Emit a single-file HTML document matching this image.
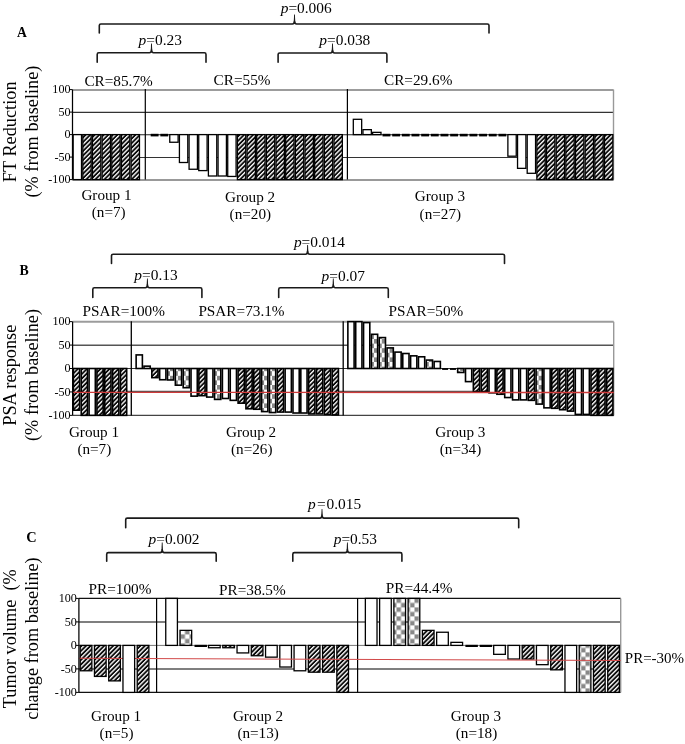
<!DOCTYPE html>
<html><head><meta charset="utf-8"><title>Figure</title>
<style>html,body{margin:0;padding:0;background:#fff;}body{width:685px;height:744px;position:relative;overflow:hidden;font-family:"Liberation Serif",serif;}</style></head>
<body>
<svg width="685" height="744" viewBox="0 0 685 744" style="position:absolute;left:0;top:0;font-family:'Liberation Serif', serif;" fill="#000">
<defs><pattern id="hatch" patternUnits="userSpaceOnUse" width="3.2" height="3.2" patternTransform="rotate(45)"><rect width="3.2" height="3.2" fill="#0a0a0a"/><rect x="0" y="0" width="1.35" height="3.2" fill="#fff"/></pattern><pattern id="checkB" patternUnits="userSpaceOnUse" x="2.1" y="1.5" width="8" height="9"><rect width="8" height="9" fill="#fff"/><rect x="0" y="0" width="4" height="4.5" fill="#888"/><rect x="4" y="4.5" width="4" height="4.5" fill="#888"/></pattern><pattern id="checkC" patternUnits="userSpaceOnUse" x="0.5" y="4.4" width="9" height="9"><rect width="9" height="9" fill="#fff"/><rect x="0" y="0" width="4.5" height="4.5" fill="#888"/><rect x="4.5" y="4.5" width="4.5" height="4.5" fill="#888"/></pattern></defs>
<rect width="685" height="744" fill="#fff"/>
<line x1="72.5" y1="90.00" x2="613.5" y2="90.00" stroke="#9c9c9c" stroke-width="2.0"/>
<line x1="72.5" y1="112.40" x2="613.5" y2="112.40" stroke="#333" stroke-width="1.1"/>
<line x1="72.5" y1="134.80" x2="613.5" y2="134.80" stroke="#222" stroke-width="1.1"/>
<line x1="72.5" y1="157.50" x2="613.5" y2="157.50" stroke="#333" stroke-width="1.1"/>
<line x1="72.5" y1="180.00" x2="613.5" y2="180.00" stroke="#999" stroke-width="2.0"/>
<line x1="613.5" y1="89.60" x2="613.5" y2="179.60" stroke="#999" stroke-width="1.4"/>
<rect x="73.15" y="134.60" width="8.36" height="45.00" fill="#ffffff" stroke="#000" stroke-width="1.3"/>
<rect x="82.81" y="134.60" width="8.36" height="45.00" fill="url(#hatch)" stroke="#000" stroke-width="1.3"/>
<rect x="92.47" y="134.60" width="8.36" height="45.00" fill="url(#hatch)" stroke="#000" stroke-width="1.3"/>
<rect x="102.13" y="134.60" width="8.36" height="45.00" fill="url(#hatch)" stroke="#000" stroke-width="1.3"/>
<rect x="111.79" y="134.60" width="8.36" height="45.00" fill="url(#hatch)" stroke="#000" stroke-width="1.3"/>
<rect x="121.45" y="134.60" width="8.36" height="45.00" fill="url(#hatch)" stroke="#000" stroke-width="1.3"/>
<rect x="131.11" y="134.60" width="8.36" height="45.00" fill="url(#hatch)" stroke="#000" stroke-width="1.3"/>
<rect x="150.69" y="133.80" width="7.86" height="2.6" fill="#000"/>
<rect x="160.35" y="133.80" width="7.86" height="2.6" fill="#000"/>
<rect x="169.76" y="134.60" width="8.36" height="7.65" fill="#ffffff" stroke="#000" stroke-width="1.3"/>
<rect x="179.42" y="134.60" width="8.36" height="27.90" fill="#ffffff" stroke="#000" stroke-width="1.3"/>
<rect x="189.08" y="134.60" width="8.36" height="34.65" fill="#ffffff" stroke="#000" stroke-width="1.3"/>
<rect x="198.74" y="134.60" width="8.36" height="36.00" fill="#ffffff" stroke="#000" stroke-width="1.3"/>
<rect x="208.40" y="134.60" width="8.36" height="41.40" fill="#ffffff" stroke="#000" stroke-width="1.3"/>
<rect x="218.06" y="134.60" width="8.36" height="41.40" fill="#ffffff" stroke="#000" stroke-width="1.3"/>
<rect x="227.72" y="134.60" width="8.36" height="41.85" fill="#ffffff" stroke="#000" stroke-width="1.3"/>
<rect x="237.38" y="134.60" width="8.36" height="45.00" fill="url(#hatch)" stroke="#000" stroke-width="1.3"/>
<rect x="247.04" y="134.60" width="8.36" height="45.00" fill="url(#hatch)" stroke="#000" stroke-width="1.3"/>
<rect x="256.70" y="134.60" width="8.36" height="45.00" fill="url(#hatch)" stroke="#000" stroke-width="1.3"/>
<rect x="266.36" y="134.60" width="8.36" height="45.00" fill="url(#hatch)" stroke="#000" stroke-width="1.3"/>
<rect x="276.02" y="134.60" width="8.36" height="45.00" fill="url(#hatch)" stroke="#000" stroke-width="1.3"/>
<rect x="285.69" y="134.60" width="8.36" height="45.00" fill="url(#hatch)" stroke="#000" stroke-width="1.3"/>
<rect x="295.35" y="134.60" width="8.36" height="45.00" fill="url(#hatch)" stroke="#000" stroke-width="1.3"/>
<rect x="305.01" y="134.60" width="8.36" height="45.00" fill="url(#hatch)" stroke="#000" stroke-width="1.3"/>
<rect x="314.67" y="134.60" width="8.36" height="45.00" fill="url(#hatch)" stroke="#000" stroke-width="1.3"/>
<rect x="324.33" y="134.60" width="8.36" height="45.00" fill="url(#hatch)" stroke="#000" stroke-width="1.3"/>
<rect x="333.99" y="134.60" width="8.36" height="45.00" fill="url(#hatch)" stroke="#000" stroke-width="1.3"/>
<rect x="353.31" y="119.30" width="8.36" height="15.30" fill="#ffffff" stroke="#000" stroke-width="1.3"/>
<rect x="362.97" y="129.65" width="8.36" height="4.95" fill="#ffffff" stroke="#000" stroke-width="1.3"/>
<rect x="372.63" y="132.35" width="8.36" height="2.25" fill="#ffffff" stroke="#000" stroke-width="1.3"/>
<rect x="382.54" y="133.80" width="7.86" height="2.6" fill="#000"/>
<rect x="392.20" y="133.80" width="7.86" height="2.6" fill="#000"/>
<rect x="401.86" y="133.80" width="7.86" height="2.6" fill="#000"/>
<rect x="411.52" y="133.80" width="7.86" height="2.6" fill="#000"/>
<rect x="421.19" y="133.80" width="7.86" height="2.6" fill="#000"/>
<rect x="430.85" y="133.80" width="7.86" height="2.6" fill="#000"/>
<rect x="440.51" y="133.80" width="7.86" height="2.6" fill="#000"/>
<rect x="450.17" y="133.80" width="7.86" height="2.6" fill="#000"/>
<rect x="459.83" y="133.80" width="7.86" height="2.6" fill="#000"/>
<rect x="469.49" y="133.80" width="7.86" height="2.6" fill="#000"/>
<rect x="479.15" y="133.80" width="7.86" height="2.6" fill="#000"/>
<rect x="488.81" y="133.80" width="7.86" height="2.6" fill="#000"/>
<rect x="498.47" y="133.80" width="7.86" height="2.6" fill="#000"/>
<rect x="507.88" y="134.60" width="8.36" height="21.60" fill="#ffffff" stroke="#000" stroke-width="1.3"/>
<rect x="517.54" y="134.60" width="8.36" height="33.75" fill="#ffffff" stroke="#000" stroke-width="1.3"/>
<rect x="527.20" y="134.60" width="8.36" height="38.70" fill="#ffffff" stroke="#000" stroke-width="1.3"/>
<rect x="536.86" y="134.60" width="8.36" height="45.00" fill="url(#hatch)" stroke="#000" stroke-width="1.3"/>
<rect x="546.52" y="134.60" width="8.36" height="45.00" fill="url(#hatch)" stroke="#000" stroke-width="1.3"/>
<rect x="556.19" y="134.60" width="8.36" height="45.00" fill="url(#hatch)" stroke="#000" stroke-width="1.3"/>
<rect x="565.85" y="134.60" width="8.36" height="45.00" fill="url(#hatch)" stroke="#000" stroke-width="1.3"/>
<rect x="575.51" y="134.60" width="8.36" height="45.00" fill="url(#hatch)" stroke="#000" stroke-width="1.3"/>
<rect x="585.17" y="134.60" width="8.36" height="45.00" fill="url(#hatch)" stroke="#000" stroke-width="1.3"/>
<rect x="594.83" y="134.60" width="8.36" height="45.00" fill="url(#hatch)" stroke="#000" stroke-width="1.3"/>
<rect x="604.49" y="134.60" width="8.36" height="45.00" fill="url(#hatch)" stroke="#000" stroke-width="1.3"/>
<line x1="145.30" y1="89.10" x2="145.30" y2="179.60" stroke="#000" stroke-width="1.2"/>
<line x1="347.40" y1="89.10" x2="347.40" y2="179.60" stroke="#000" stroke-width="1.2"/>
<line x1="72.5" y1="89.60" x2="72.5" y2="179.60" stroke="#000" stroke-width="1.25"/>
<line x1="69.50" y1="89.60" x2="72.5" y2="89.60" stroke="#000" stroke-width="1"/>
<line x1="69.50" y1="112.10" x2="72.5" y2="112.10" stroke="#000" stroke-width="1"/>
<line x1="69.50" y1="134.60" x2="72.5" y2="134.60" stroke="#000" stroke-width="1"/>
<line x1="69.50" y1="157.10" x2="72.5" y2="157.10" stroke="#000" stroke-width="1"/>
<line x1="69.50" y1="179.60" x2="72.5" y2="179.60" stroke="#000" stroke-width="1"/>
<line x1="72.6" y1="321.70" x2="613.7" y2="321.70" stroke="#9c9c9c" stroke-width="2.0"/>
<line x1="72.6" y1="345.30" x2="613.7" y2="345.30" stroke="#555" stroke-width="1.4"/>
<line x1="72.6" y1="368.50" x2="613.7" y2="368.50" stroke="#333" stroke-width="1.1"/>
<line x1="72.6" y1="391.40" x2="613.7" y2="391.40" stroke="#555" stroke-width="1.1"/>
<line x1="72.6" y1="415.40" x2="613.7" y2="415.40" stroke="#444" stroke-width="1.2"/>
<line x1="613.7" y1="321.70" x2="613.7" y2="415.40" stroke="#999" stroke-width="1.4"/>
<rect x="73.40" y="368.50" width="6.24" height="41.70" fill="url(#hatch)" stroke="#000" stroke-width="1.6"/>
<rect x="81.24" y="368.50" width="6.24" height="46.85" fill="url(#hatch)" stroke="#000" stroke-width="1.6"/>
<rect x="89.08" y="368.50" width="6.24" height="46.85" fill="#ffffff" stroke="#000" stroke-width="1.6"/>
<rect x="96.93" y="368.50" width="6.24" height="46.85" fill="url(#hatch)" stroke="#000" stroke-width="1.6"/>
<rect x="104.77" y="368.50" width="6.24" height="46.85" fill="url(#hatch)" stroke="#000" stroke-width="1.6"/>
<rect x="112.61" y="368.50" width="6.24" height="46.85" fill="url(#hatch)" stroke="#000" stroke-width="1.6"/>
<rect x="120.45" y="368.50" width="6.24" height="46.85" fill="url(#hatch)" stroke="#000" stroke-width="1.6"/>
<rect x="136.14" y="354.91" width="6.24" height="13.59" fill="#ffffff" stroke="#000" stroke-width="1.6"/>
<rect x="143.98" y="366.16" width="6.24" height="2.34" fill="#ffffff" stroke="#000" stroke-width="1.6"/>
<rect x="151.82" y="368.50" width="6.24" height="9.14" fill="url(#hatch)" stroke="#000" stroke-width="1.6"/>
<rect x="159.66" y="368.50" width="6.24" height="11.24" fill="#ffffff" stroke="#000" stroke-width="1.6"/>
<pattern id="pc560_12" patternUnits="userSpaceOnUse" x="165.40" y="3.2" width="9.2" height="9.2"><rect width="9.2" height="9.2" fill="#fff"/><rect width="4.6" height="4.6" fill="#888"/><rect x="4.6" y="4.6" width="4.6" height="4.6" fill="#888"/></pattern>
<rect x="167.50" y="368.50" width="6.24" height="11.48" fill="url(#pc560_12)" stroke="#000" stroke-width="1.6"/>
<pattern id="pc560_13" patternUnits="userSpaceOnUse" x="173.25" y="3.2" width="9.2" height="9.2"><rect width="9.2" height="9.2" fill="#fff"/><rect width="4.6" height="4.6" fill="#888"/><rect x="4.6" y="4.6" width="4.6" height="4.6" fill="#888"/></pattern>
<rect x="175.35" y="368.50" width="6.24" height="16.68" fill="url(#pc560_13)" stroke="#000" stroke-width="1.6"/>
<pattern id="pc560_14" patternUnits="userSpaceOnUse" x="181.09" y="3.2" width="9.2" height="9.2"><rect width="9.2" height="9.2" fill="#fff"/><rect width="4.6" height="4.6" fill="#888"/><rect x="4.6" y="4.6" width="4.6" height="4.6" fill="#888"/></pattern>
<rect x="183.19" y="368.50" width="6.24" height="19.21" fill="url(#pc560_14)" stroke="#000" stroke-width="1.6"/>
<rect x="191.03" y="368.50" width="6.24" height="27.64" fill="#ffffff" stroke="#000" stroke-width="1.6"/>
<rect x="198.87" y="368.50" width="6.24" height="27.17" fill="url(#hatch)" stroke="#000" stroke-width="1.6"/>
<rect x="206.71" y="368.50" width="6.24" height="28.58" fill="#ffffff" stroke="#000" stroke-width="1.6"/>
<pattern id="pc560_18" patternUnits="userSpaceOnUse" x="212.46" y="3.2" width="9.2" height="9.2"><rect width="9.2" height="9.2" fill="#fff"/><rect width="4.6" height="4.6" fill="#888"/><rect x="4.6" y="4.6" width="4.6" height="4.6" fill="#888"/></pattern>
<rect x="214.56" y="368.50" width="6.24" height="30.92" fill="url(#pc560_18)" stroke="#000" stroke-width="1.6"/>
<rect x="222.40" y="368.50" width="6.24" height="29.98" fill="#ffffff" stroke="#000" stroke-width="1.6"/>
<rect x="230.24" y="368.50" width="6.24" height="31.86" fill="#ffffff" stroke="#000" stroke-width="1.6"/>
<rect x="238.08" y="368.50" width="6.24" height="34.67" fill="url(#hatch)" stroke="#000" stroke-width="1.6"/>
<rect x="245.92" y="368.50" width="6.24" height="40.29" fill="url(#hatch)" stroke="#000" stroke-width="1.6"/>
<rect x="253.77" y="368.50" width="6.24" height="40.76" fill="url(#hatch)" stroke="#000" stroke-width="1.6"/>
<pattern id="pc560_24" patternUnits="userSpaceOnUse" x="259.51" y="3.2" width="9.2" height="9.2"><rect width="9.2" height="9.2" fill="#fff"/><rect width="4.6" height="4.6" fill="#888"/><rect x="4.6" y="4.6" width="4.6" height="4.6" fill="#888"/></pattern>
<rect x="261.61" y="368.50" width="6.24" height="43.10" fill="url(#pc560_24)" stroke="#000" stroke-width="1.6"/>
<pattern id="pc560_25" patternUnits="userSpaceOnUse" x="267.35" y="3.2" width="9.2" height="9.2"><rect width="9.2" height="9.2" fill="#fff"/><rect width="4.6" height="4.6" fill="#888"/><rect x="4.6" y="4.6" width="4.6" height="4.6" fill="#888"/></pattern>
<rect x="269.45" y="368.50" width="6.24" height="44.04" fill="url(#pc560_25)" stroke="#000" stroke-width="1.6"/>
<rect x="277.29" y="368.50" width="6.24" height="43.57" fill="url(#hatch)" stroke="#000" stroke-width="1.6"/>
<rect x="285.13" y="368.50" width="6.24" height="43.57" fill="#ffffff" stroke="#000" stroke-width="1.6"/>
<rect x="292.98" y="368.50" width="6.24" height="44.51" fill="#ffffff" stroke="#000" stroke-width="1.6"/>
<rect x="300.82" y="368.50" width="6.24" height="44.51" fill="#ffffff" stroke="#000" stroke-width="1.6"/>
<rect x="308.66" y="368.50" width="6.24" height="45.44" fill="url(#hatch)" stroke="#000" stroke-width="1.6"/>
<rect x="316.50" y="368.50" width="6.24" height="45.44" fill="url(#hatch)" stroke="#000" stroke-width="1.6"/>
<rect x="324.34" y="368.50" width="6.24" height="45.91" fill="url(#hatch)" stroke="#000" stroke-width="1.6"/>
<rect x="332.19" y="368.50" width="6.24" height="46.38" fill="url(#hatch)" stroke="#000" stroke-width="1.6"/>
<rect x="347.87" y="321.65" width="6.24" height="46.85" fill="#ffffff" stroke="#000" stroke-width="1.6"/>
<rect x="355.71" y="321.65" width="6.24" height="46.85" fill="#ffffff" stroke="#000" stroke-width="1.6"/>
<rect x="363.56" y="322.59" width="6.24" height="45.91" fill="#ffffff" stroke="#000" stroke-width="1.6"/>
<pattern id="pc560_38" patternUnits="userSpaceOnUse" x="369.30" y="3.2" width="9.2" height="9.2"><rect width="9.2" height="9.2" fill="#fff"/><rect width="4.6" height="4.6" fill="#888"/><rect x="4.6" y="4.6" width="4.6" height="4.6" fill="#888"/></pattern>
<rect x="371.40" y="334.30" width="6.24" height="34.20" fill="url(#pc560_38)" stroke="#000" stroke-width="1.6"/>
<pattern id="pc560_39" patternUnits="userSpaceOnUse" x="377.14" y="3.2" width="9.2" height="9.2"><rect width="9.2" height="9.2" fill="#fff"/><rect width="4.6" height="4.6" fill="#888"/><rect x="4.6" y="4.6" width="4.6" height="4.6" fill="#888"/></pattern>
<rect x="379.24" y="337.58" width="6.24" height="30.92" fill="url(#pc560_39)" stroke="#000" stroke-width="1.6"/>
<pattern id="pc560_40" patternUnits="userSpaceOnUse" x="384.98" y="3.2" width="9.2" height="9.2"><rect width="9.2" height="9.2" fill="#fff"/><rect width="4.6" height="4.6" fill="#888"/><rect x="4.6" y="4.6" width="4.6" height="4.6" fill="#888"/></pattern>
<rect x="387.08" y="347.89" width="6.24" height="20.61" fill="url(#pc560_40)" stroke="#000" stroke-width="1.6"/>
<rect x="394.92" y="352.10" width="6.24" height="16.40" fill="#ffffff" stroke="#000" stroke-width="1.6"/>
<rect x="402.77" y="353.51" width="6.24" height="14.99" fill="#ffffff" stroke="#000" stroke-width="1.6"/>
<rect x="410.61" y="355.85" width="6.24" height="12.65" fill="#ffffff" stroke="#000" stroke-width="1.6"/>
<rect x="418.45" y="356.79" width="6.24" height="11.71" fill="#ffffff" stroke="#000" stroke-width="1.6"/>
<pattern id="pc560_45" patternUnits="userSpaceOnUse" x="424.19" y="3.2" width="9.2" height="9.2"><rect width="9.2" height="9.2" fill="#fff"/><rect width="4.6" height="4.6" fill="#888"/><rect x="4.6" y="4.6" width="4.6" height="4.6" fill="#888"/></pattern>
<rect x="426.29" y="360.07" width="6.24" height="8.43" fill="url(#pc560_45)" stroke="#000" stroke-width="1.6"/>
<rect x="434.13" y="361.47" width="6.24" height="7.03" fill="#ffffff" stroke="#000" stroke-width="1.6"/>
<rect x="442.08" y="368.10" width="6.04" height="1.8" fill="#000"/>
<rect x="449.92" y="368.10" width="6.04" height="1.8" fill="#000"/>
<pattern id="pc560_49" patternUnits="userSpaceOnUse" x="455.56" y="3.2" width="9.2" height="9.2"><rect width="9.2" height="9.2" fill="#fff"/><rect width="4.6" height="4.6" fill="#888"/><rect x="4.6" y="4.6" width="4.6" height="4.6" fill="#888"/></pattern>
<rect x="457.66" y="368.50" width="6.24" height="3.98" fill="url(#pc560_49)" stroke="#000" stroke-width="1.6"/>
<rect x="465.50" y="368.50" width="6.24" height="13.12" fill="#ffffff" stroke="#000" stroke-width="1.6"/>
<rect x="473.34" y="368.50" width="6.24" height="22.96" fill="url(#hatch)" stroke="#000" stroke-width="1.6"/>
<rect x="481.19" y="368.50" width="6.24" height="22.96" fill="url(#hatch)" stroke="#000" stroke-width="1.6"/>
<rect x="489.03" y="368.50" width="6.24" height="24.36" fill="#ffffff" stroke="#000" stroke-width="1.6"/>
<rect x="496.87" y="368.50" width="6.24" height="25.77" fill="url(#hatch)" stroke="#000" stroke-width="1.6"/>
<rect x="504.71" y="368.50" width="6.24" height="29.05" fill="#ffffff" stroke="#000" stroke-width="1.6"/>
<rect x="512.55" y="368.50" width="6.24" height="31.39" fill="#ffffff" stroke="#000" stroke-width="1.6"/>
<rect x="520.40" y="368.50" width="6.24" height="31.39" fill="#ffffff" stroke="#000" stroke-width="1.6"/>
<rect x="528.24" y="368.50" width="6.24" height="31.86" fill="url(#hatch)" stroke="#000" stroke-width="1.6"/>
<pattern id="pc560_59" patternUnits="userSpaceOnUse" x="533.98" y="3.2" width="9.2" height="9.2"><rect width="9.2" height="9.2" fill="#fff"/><rect width="4.6" height="4.6" fill="#888"/><rect x="4.6" y="4.6" width="4.6" height="4.6" fill="#888"/></pattern>
<rect x="536.08" y="368.50" width="6.24" height="35.61" fill="url(#pc560_59)" stroke="#000" stroke-width="1.6"/>
<rect x="543.92" y="368.50" width="6.24" height="39.35" fill="#ffffff" stroke="#000" stroke-width="1.6"/>
<rect x="551.76" y="368.50" width="6.24" height="39.82" fill="url(#hatch)" stroke="#000" stroke-width="1.6"/>
<rect x="559.61" y="368.50" width="6.24" height="41.23" fill="url(#hatch)" stroke="#000" stroke-width="1.6"/>
<rect x="567.45" y="368.50" width="6.24" height="42.63" fill="url(#hatch)" stroke="#000" stroke-width="1.6"/>
<rect x="575.29" y="368.50" width="6.24" height="45.91" fill="#ffffff" stroke="#000" stroke-width="1.6"/>
<rect x="583.13" y="368.50" width="6.24" height="45.91" fill="#ffffff" stroke="#000" stroke-width="1.6"/>
<rect x="590.97" y="368.50" width="6.24" height="46.85" fill="url(#hatch)" stroke="#000" stroke-width="1.6"/>
<rect x="598.82" y="368.50" width="6.24" height="46.85" fill="url(#hatch)" stroke="#000" stroke-width="1.6"/>
<rect x="606.66" y="368.50" width="6.24" height="46.85" fill="url(#hatch)" stroke="#000" stroke-width="1.6"/>
<line x1="131.30" y1="321.20" x2="131.30" y2="415.40" stroke="#000" stroke-width="1.3"/>
<line x1="343.20" y1="321.20" x2="343.20" y2="415.40" stroke="#000" stroke-width="1.3"/>
<line x1="72.6" y1="392.40" x2="613.7" y2="392.50" stroke="#cf3b3b" stroke-width="1.3"/>
<line x1="72.6" y1="321.70" x2="72.6" y2="415.40" stroke="#000" stroke-width="1.25"/>
<line x1="69.60" y1="321.65" x2="72.6" y2="321.65" stroke="#000" stroke-width="1"/>
<line x1="69.60" y1="345.07" x2="72.6" y2="345.07" stroke="#000" stroke-width="1"/>
<line x1="69.60" y1="368.50" x2="72.6" y2="368.50" stroke="#000" stroke-width="1"/>
<line x1="69.60" y1="391.93" x2="72.6" y2="391.93" stroke="#000" stroke-width="1"/>
<line x1="69.60" y1="415.35" x2="72.6" y2="415.35" stroke="#000" stroke-width="1"/>
<line x1="78.9" y1="598.40" x2="620.7" y2="598.40" stroke="#111" stroke-width="1.2"/>
<line x1="78.9" y1="621.90" x2="620.7" y2="621.90" stroke="#555" stroke-width="1.5"/>
<line x1="78.9" y1="645.40" x2="620.7" y2="645.40" stroke="#777" stroke-width="1.0"/>
<line x1="78.9" y1="668.90" x2="620.7" y2="668.90" stroke="#555" stroke-width="1.5"/>
<line x1="78.9" y1="692.40" x2="620.7" y2="692.40" stroke="#111" stroke-width="1.2"/>
<line x1="620.7" y1="598.40" x2="620.7" y2="692.40" stroke="#999" stroke-width="1.4"/>
<rect x="80.20" y="645.40" width="11.66" height="25.38" fill="url(#hatch)" stroke="#000" stroke-width="1.3"/>
<rect x="94.46" y="645.40" width="11.66" height="31.02" fill="url(#hatch)" stroke="#000" stroke-width="1.3"/>
<rect x="108.72" y="645.40" width="11.66" height="35.49" fill="url(#hatch)" stroke="#000" stroke-width="1.3"/>
<rect x="137.23" y="645.40" width="11.66" height="47.00" fill="url(#hatch)" stroke="#000" stroke-width="1.3"/>
<rect x="165.75" y="598.40" width="11.66" height="47.00" fill="#ffffff" stroke="#000" stroke-width="1.3"/>
<rect x="180.01" y="630.36" width="11.66" height="15.04" fill="url(#checkC)" stroke="#000" stroke-width="1.3"/>
<rect x="194.51" y="644.80" width="12.46" height="2.2" fill="#000"/>
<rect x="208.52" y="645.40" width="11.66" height="2.35" fill="#ffffff" stroke="#000" stroke-width="1.3"/>
<rect x="222.78" y="645.40" width="11.66" height="2.35" fill="url(#hatch)" stroke="#000" stroke-width="1.3"/>
<rect x="237.04" y="645.40" width="11.66" height="7.52" fill="#ffffff" stroke="#000" stroke-width="1.3"/>
<rect x="251.29" y="645.40" width="11.66" height="10.34" fill="url(#hatch)" stroke="#000" stroke-width="1.3"/>
<rect x="265.55" y="645.40" width="11.66" height="11.75" fill="#ffffff" stroke="#000" stroke-width="1.3"/>
<rect x="279.81" y="645.40" width="11.66" height="21.62" fill="#ffffff" stroke="#000" stroke-width="1.3"/>
<rect x="294.07" y="645.40" width="11.66" height="25.38" fill="#ffffff" stroke="#000" stroke-width="1.3"/>
<rect x="308.33" y="645.40" width="11.66" height="26.79" fill="url(#hatch)" stroke="#000" stroke-width="1.3"/>
<rect x="322.58" y="645.40" width="11.66" height="26.79" fill="url(#hatch)" stroke="#000" stroke-width="1.3"/>
<rect x="336.84" y="645.40" width="11.66" height="47.00" fill="url(#hatch)" stroke="#000" stroke-width="1.3"/>
<rect x="365.36" y="598.40" width="11.66" height="47.00" fill="#ffffff" stroke="#000" stroke-width="1.3"/>
<rect x="379.62" y="598.40" width="11.66" height="47.00" fill="#ffffff" stroke="#000" stroke-width="1.3"/>
<rect x="393.87" y="598.40" width="11.66" height="47.00" fill="url(#checkC)" stroke="#000" stroke-width="1.3"/>
<rect x="408.13" y="598.40" width="11.66" height="47.00" fill="url(#checkC)" stroke="#000" stroke-width="1.3"/>
<rect x="422.39" y="630.36" width="11.66" height="15.04" fill="url(#hatch)" stroke="#000" stroke-width="1.3"/>
<rect x="436.65" y="632.24" width="11.66" height="13.16" fill="#ffffff" stroke="#000" stroke-width="1.3"/>
<rect x="450.91" y="642.35" width="11.66" height="3.05" fill="#ffffff" stroke="#000" stroke-width="1.3"/>
<rect x="465.41" y="644.80" width="12.46" height="2.2" fill="#000"/>
<rect x="479.67" y="644.80" width="12.46" height="2.2" fill="#000"/>
<rect x="493.68" y="645.40" width="11.66" height="8.93" fill="#ffffff" stroke="#000" stroke-width="1.3"/>
<rect x="507.94" y="645.40" width="11.66" height="13.63" fill="#ffffff" stroke="#000" stroke-width="1.3"/>
<rect x="522.19" y="645.40" width="11.66" height="13.63" fill="url(#hatch)" stroke="#000" stroke-width="1.3"/>
<rect x="536.45" y="645.40" width="11.66" height="19.27" fill="#ffffff" stroke="#000" stroke-width="1.3"/>
<rect x="550.71" y="645.40" width="11.66" height="24.44" fill="url(#hatch)" stroke="#000" stroke-width="1.3"/>
<rect x="564.97" y="645.40" width="11.66" height="47.00" fill="#ffffff" stroke="#000" stroke-width="1.3"/>
<rect x="579.23" y="645.40" width="11.66" height="47.00" fill="url(#checkC)" stroke="#000" stroke-width="1.3"/>
<rect x="593.48" y="645.40" width="11.66" height="47.00" fill="url(#hatch)" stroke="#000" stroke-width="1.3"/>
<rect x="607.74" y="645.40" width="11.66" height="47.00" fill="url(#hatch)" stroke="#000" stroke-width="1.3"/>
<line x1="156.60" y1="597.90" x2="156.60" y2="692.40" stroke="#000" stroke-width="1.2"/>
<line x1="357.60" y1="597.90" x2="357.60" y2="692.40" stroke="#000" stroke-width="1.2"/>
<line x1="78.9" y1="658.30" x2="620.7" y2="660.50" stroke="#d24a4a" stroke-width="1.1"/>
<rect x="122.97" y="645.40" width="11.66" height="47.00" fill="#ffffff" stroke="#000" stroke-width="1.3"/>
<line x1="78.9" y1="598.40" x2="78.9" y2="692.40" stroke="#000" stroke-width="1.25"/>
<line x1="75.90" y1="598.40" x2="78.9" y2="598.40" stroke="#000" stroke-width="1"/>
<line x1="75.90" y1="621.90" x2="78.9" y2="621.90" stroke="#000" stroke-width="1"/>
<line x1="75.90" y1="645.40" x2="78.9" y2="645.40" stroke="#000" stroke-width="1"/>
<line x1="75.90" y1="668.90" x2="78.9" y2="668.90" stroke="#000" stroke-width="1"/>
<line x1="75.90" y1="692.40" x2="78.9" y2="692.40" stroke="#000" stroke-width="1"/>
<path d="M99.30,33.00 L99.30,25.60 Q99.30,24.00 100.90,24.00 L292.50,24.00 Q294.20,24.00 294.50,21.20 M489.00,33.00 L489.00,25.60 Q489.00,24.00 487.40,24.00 L296.50,24.00 Q294.80,24.00 294.50,21.20" fill="none" stroke="#1a1a1a" stroke-width="1.6" stroke-linecap="round" stroke-linejoin="round"/>
<path d="M293.75,21.50 L294.10,14.50 L294.90,14.50 L295.25,21.50 Z" fill="#1a1a1a"/>
<path d="M97.20,62.20 L97.20,54.40 Q97.20,52.80 98.80,52.80 L149.50,52.80 Q151.20,52.80 151.50,50.00 M206.00,62.20 L206.00,54.40 Q206.00,52.80 204.40,52.80 L153.50,52.80 Q151.80,52.80 151.50,50.00" fill="none" stroke="#1a1a1a" stroke-width="1.6" stroke-linecap="round" stroke-linejoin="round"/>
<path d="M150.75,50.30 L151.10,43.50 L151.90,43.50 L152.25,50.30 Z" fill="#1a1a1a"/>
<path d="M278.10,62.20 L278.10,54.60 Q278.10,53.00 279.70,53.00 L330.50,53.00 Q332.20,53.00 332.50,50.20 M386.90,62.20 L386.90,54.60 Q386.90,53.00 385.30,53.00 L334.50,53.00 Q332.80,53.00 332.50,50.20" fill="none" stroke="#1a1a1a" stroke-width="1.6" stroke-linecap="round" stroke-linejoin="round"/>
<path d="M331.75,50.50 L332.10,43.50 L332.90,43.50 L333.25,50.50 Z" fill="#1a1a1a"/>
<path d="M111.50,263.50 L111.50,255.80 Q111.50,254.20 113.10,254.20 L305.60,254.20 Q307.30,254.20 307.60,251.40 M504.50,263.50 L504.50,255.80 Q504.50,254.20 502.90,254.20 L309.60,254.20 Q307.90,254.20 307.60,251.40" fill="none" stroke="#1a1a1a" stroke-width="1.6" stroke-linecap="round" stroke-linejoin="round"/>
<path d="M306.85,251.70 L307.20,245.00 L308.00,245.00 L308.35,251.70 Z" fill="#1a1a1a"/>
<path d="M92.80,297.40 L92.80,289.40 Q92.80,287.80 94.40,287.80 L145.40,287.80 Q147.10,287.80 147.40,285.00 M201.90,297.40 L201.90,289.40 Q201.90,287.80 200.30,287.80 L149.40,287.80 Q147.70,287.80 147.40,285.00" fill="none" stroke="#1a1a1a" stroke-width="1.6" stroke-linecap="round" stroke-linejoin="round"/>
<path d="M146.65,285.30 L147.00,278.50 L147.80,278.50 L148.15,285.30 Z" fill="#1a1a1a"/>
<path d="M278.70,297.40 L278.70,289.40 Q278.70,287.80 280.30,287.80 L331.30,287.80 Q333.00,287.80 333.30,285.00 M388.30,297.40 L388.30,289.40 Q388.30,287.80 386.70,287.80 L335.30,287.80 Q333.60,287.80 333.30,285.00" fill="none" stroke="#1a1a1a" stroke-width="1.6" stroke-linecap="round" stroke-linejoin="round"/>
<path d="M332.55,285.30 L332.90,278.50 L333.70,278.50 L334.05,285.30 Z" fill="#1a1a1a"/>
<path d="M125.70,527.70 L125.70,519.70 Q125.70,518.10 127.30,518.10 L320.00,518.10 Q321.70,518.10 322.00,515.30 M518.70,527.70 L518.70,519.70 Q518.70,518.10 517.10,518.10 L324.00,518.10 Q322.30,518.10 322.00,515.30" fill="none" stroke="#1a1a1a" stroke-width="1.6" stroke-linecap="round" stroke-linejoin="round"/>
<path d="M321.25,515.60 L321.60,509.00 L322.40,509.00 L322.75,515.60 Z" fill="#1a1a1a"/>
<path d="M106.70,561.30 L106.70,554.20 Q106.70,552.60 108.30,552.60 L160.20,552.60 Q161.90,552.60 162.20,549.80 M216.20,561.30 L216.20,554.20 Q216.20,552.60 214.60,552.60 L164.20,552.60 Q162.50,552.60 162.20,549.80" fill="none" stroke="#1a1a1a" stroke-width="1.6" stroke-linecap="round" stroke-linejoin="round"/>
<path d="M161.45,550.10 L161.80,542.50 L162.60,542.50 L162.95,550.10 Z" fill="#1a1a1a"/>
<path d="M292.80,561.30 L292.80,554.20 Q292.80,552.60 294.40,552.60 L345.40,552.60 Q347.10,552.60 347.40,549.80 M401.90,561.30 L401.90,554.20 Q401.90,552.60 400.30,552.60 L349.40,552.60 Q347.70,552.60 347.40,549.80" fill="none" stroke="#1a1a1a" stroke-width="1.6" stroke-linecap="round" stroke-linejoin="round"/>
<path d="M346.65,550.10 L347.00,542.50 L347.80,542.50 L348.15,550.10 Z" fill="#1a1a1a"/>
<g style="opacity:0.999">
<text x="70.50" y="93.40" font-size="12.1" font-weight="normal" text-anchor="end" >100</text>
<text x="70.50" y="115.90" font-size="12.1" font-weight="normal" text-anchor="end" >50</text>
<text x="70.50" y="138.40" font-size="12.1" font-weight="normal" text-anchor="end" >0</text>
<text x="70.50" y="160.90" font-size="12.1" font-weight="normal" text-anchor="end" >-50</text>
<text x="70.50" y="183.40" font-size="12.1" font-weight="normal" text-anchor="end" >-100</text>
<text x="70.60" y="325.45" font-size="12.1" font-weight="normal" text-anchor="end" >100</text>
<text x="70.60" y="348.88" font-size="12.1" font-weight="normal" text-anchor="end" >50</text>
<text x="70.60" y="372.30" font-size="12.1" font-weight="normal" text-anchor="end" >0</text>
<text x="70.60" y="395.73" font-size="12.1" font-weight="normal" text-anchor="end" >-50</text>
<text x="70.60" y="419.15" font-size="12.1" font-weight="normal" text-anchor="end" >-100</text>
<text x="76.90" y="602.20" font-size="12.1" font-weight="normal" text-anchor="end" >100</text>
<text x="76.90" y="625.70" font-size="12.1" font-weight="normal" text-anchor="end" >50</text>
<text x="76.90" y="649.20" font-size="12.1" font-weight="normal" text-anchor="end" >0</text>
<text x="76.90" y="672.70" font-size="12.1" font-weight="normal" text-anchor="end" >-50</text>
<text x="76.90" y="696.20" font-size="12.1" font-weight="normal" text-anchor="end" >-100</text>
<text x="17" y="37" font-size="15" font-weight="bold" transform="translate(17,0) scale(0.91,1) translate(-17,0)">A</text>
<text x="280.70" y="12.80" font-size="15.4"><tspan font-style="italic">p</tspan><tspan dx="0">=</tspan><tspan dx="0">0.006</tspan></text>
<text x="138.60" y="45.30" font-size="15.4"><tspan font-style="italic">p</tspan><tspan dx="0">=</tspan><tspan dx="0">0.23</tspan></text>
<text x="319.30" y="45.30" font-size="15.4"><tspan font-style="italic">p</tspan><tspan dx="0">=</tspan><tspan dx="0">0.038</tspan></text>
<text x="84.40" y="85.50" font-size="15.25" font-weight="normal" text-anchor="start" >CR=85.7%</text>
<text x="213.60" y="85.40" font-size="15.25" font-weight="normal" text-anchor="start" >CR=55%</text>
<text x="384.00" y="85.40" font-size="15.25" font-weight="normal" text-anchor="start" >CR=29.6%</text>
<text x="81.40" y="199.70" font-size="15.2" font-weight="normal" text-anchor="start" >Group 1</text>
<text x="91.80" y="217.20" font-size="15.2" font-weight="normal" text-anchor="start" >(n=7)</text>
<text x="225.00" y="201.60" font-size="15.2" font-weight="normal" text-anchor="start" >Group 2</text>
<text x="229.60" y="219.10" font-size="15.2" font-weight="normal" text-anchor="start" >(n=20)</text>
<text x="414.80" y="201.20" font-size="15.2" font-weight="normal" text-anchor="start" >Group 3</text>
<text x="419.60" y="219.30" font-size="15.2" font-weight="normal" text-anchor="start" >(n=27)</text>
<g transform="translate(15.6,131.8) rotate(-90)"><text x="0" y="0" font-size="18.3" text-anchor="middle">FT Reduction</text></g>
<g transform="translate(37.6,131.6) rotate(-90)"><text x="0" y="0" font-size="18.3" text-anchor="middle">(% from baseline)</text></g>
<text x="19.4" y="275.2" font-size="15" font-weight="bold" transform="translate(19.4,0) scale(0.92,1) translate(-19.4,0)">B</text>
<text x="293.90" y="246.90" font-size="15.4"><tspan font-style="italic">p</tspan><tspan dx="0">=</tspan><tspan dx="0">0.014</tspan></text>
<text x="134.30" y="279.90" font-size="15.4"><tspan font-style="italic">p</tspan><tspan dx="0">=</tspan><tspan dx="0">0.13</tspan></text>
<text x="321.60" y="280.50" font-size="15.4"><tspan font-style="italic">p</tspan><tspan dx="0">=</tspan><tspan dx="0">0.07</tspan></text>
<text x="82.60" y="316.10" font-size="15.25" font-weight="normal" text-anchor="start" >PSAR=100%</text>
<text x="198.40" y="316.10" font-size="15.25" font-weight="normal" text-anchor="start" >PSAR=73.1%</text>
<text x="388.60" y="315.60" font-size="15.25" font-weight="normal" text-anchor="start" >PSAR=50%</text>
<text x="68.90" y="436.60" font-size="15.2" font-weight="normal" text-anchor="start" >Group 1</text>
<text x="77.40" y="453.80" font-size="15.2" font-weight="normal" text-anchor="start" >(n=7)</text>
<text x="226.00" y="436.60" font-size="15.2" font-weight="normal" text-anchor="start" >Group 2</text>
<text x="231.00" y="453.80" font-size="15.2" font-weight="normal" text-anchor="start" >(n=26)</text>
<text x="435.20" y="436.60" font-size="15.2" font-weight="normal" text-anchor="start" >Group 3</text>
<text x="439.80" y="453.80" font-size="15.2" font-weight="normal" text-anchor="start" >(n=34)</text>
<g transform="translate(15.6,375.2) rotate(-90)"><text x="0" y="0" font-size="18.3" text-anchor="middle">PSA response</text></g>
<g transform="translate(37.6,375.0) rotate(-90)"><text x="0" y="0" font-size="18.3" text-anchor="middle">(% from baseline)</text></g>
<text x="26.2" y="542.3" font-size="15" font-weight="bold" transform="translate(26.2,0) scale(0.96,1) translate(-26.2,0)">C</text>
<text x="308.00" y="509.30" font-size="15.4"><tspan font-style="italic">p</tspan><tspan dx="1.2">=</tspan><tspan dx="1.0">0.015</tspan></text>
<text x="148.50" y="544.40" font-size="15.4"><tspan font-style="italic">p</tspan><tspan dx="0">=</tspan><tspan dx="0">0.002</tspan></text>
<text x="333.70" y="543.80" font-size="15.4"><tspan font-style="italic">p</tspan><tspan dx="0">=</tspan><tspan dx="0">0.53</tspan></text>
<text x="88.60" y="594.00" font-size="15.25" font-weight="normal" text-anchor="start" >PR=100%</text>
<text x="219.00" y="594.90" font-size="15.25" font-weight="normal" text-anchor="start" >PR=38.5%</text>
<text x="385.80" y="592.80" font-size="15.25" font-weight="normal" text-anchor="start" >PR=44.4%</text>
<text x="624.80" y="663.10" font-size="15.0" font-weight="normal" text-anchor="start" >PR=-30%</text>
<text x="91.00" y="720.70" font-size="15.2" font-weight="normal" text-anchor="start" >Group 1</text>
<text x="99.60" y="737.80" font-size="15.2" font-weight="normal" text-anchor="start" >(n=5)</text>
<text x="232.90" y="720.60" font-size="15.2" font-weight="normal" text-anchor="start" >Group 2</text>
<text x="237.40" y="737.80" font-size="15.2" font-weight="normal" text-anchor="start" >(n=13)</text>
<text x="450.80" y="720.80" font-size="15.2" font-weight="normal" text-anchor="start" >Group 3</text>
<text x="455.80" y="737.80" font-size="15.2" font-weight="normal" text-anchor="start" >(n=18)</text>
<g transform="translate(15.8,638.7) rotate(-90)"><text x="0" y="0" font-size="18.3" text-anchor="middle" xml:space="preserve">Tumor volume  (%</text></g>
<g transform="translate(37.6,638.5) rotate(-90)"><text x="0" y="0" font-size="18.3" text-anchor="middle">change from baseline)</text></g>
</g>
</svg>
</body></html>
